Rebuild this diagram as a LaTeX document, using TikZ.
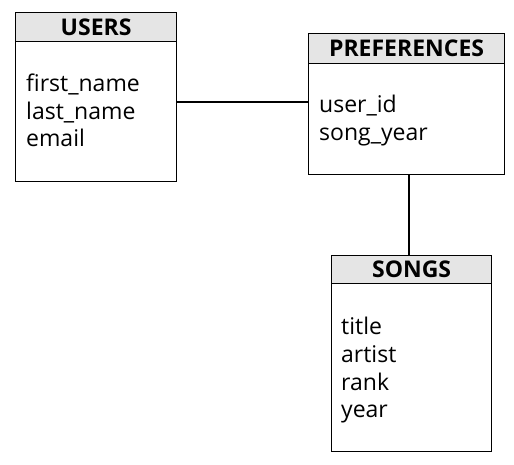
\documentclass[tikz,border=0pt]{standalone}
\usepackage{fontspec}
\setmainfont{Open Sans}
\begin{document}
\begin{tikzpicture}[x=1pt,y=-1pt,
  tbl/.style={draw=black, line width=1.2pt, fill=white, anchor=north west, inner sep=0pt},
  hdr/.style={draw=black, line width=1.2pt, fill=gray!20, anchor=north west, inner sep=0pt, font=\fontsize{23}{26}\selectfont\bfseries},
  fld/.style={anchor=base west, inner sep=0pt, font=\fontsize{23}{26}\selectfont},
  link/.style={line width=2.8pt}]
\useasboundingbox (0,0) rectangle (514,465);
% USERS
\node[tbl, minimum width=161pt, minimum height=169pt] (users) at (15,12) {};
\node[hdr, minimum width=161pt, minimum height=29pt] (usersh) at (15,12) {USERS};
\node[fld] (u1) at (26,92) {first\_name};
\node[fld] (u2) at (26,120) {last\_name};
\node[fld] (u3) at (26,147) {email};
% PREFERENCES
\node[tbl, minimum width=196pt, minimum height=141pt] (prefs) at (308,33) {};
\node[hdr, minimum width=196pt, minimum height=30pt] (prefsh) at (308,33) {PREFERENCES};
\node[fld] (p1) at (319,113) {user\_id};
\node[fld] (p2) at (319,141) {song\_year};
% SONGS
\node[tbl, minimum width=160pt, minimum height=196pt] (songs) at (331,255) {};
\node[hdr, minimum width=160pt, minimum height=28pt] (songsh) at (331,255) {SONGS};
\node[fld] (s1) at (341,334) {title};
\node[fld] (s2) at (341,362) {artist};
\node[fld] (s3) at (341,390) {rank};
\node[fld] (s4) at (341,417) {year};
% links
\draw[link] (users.east |- 0,102) -- (prefs.west |- 0,102);
\draw[link] (prefs.south -| 409,0) -- (songsh.north -| 409,0);
\end{tikzpicture}
\end{document}
